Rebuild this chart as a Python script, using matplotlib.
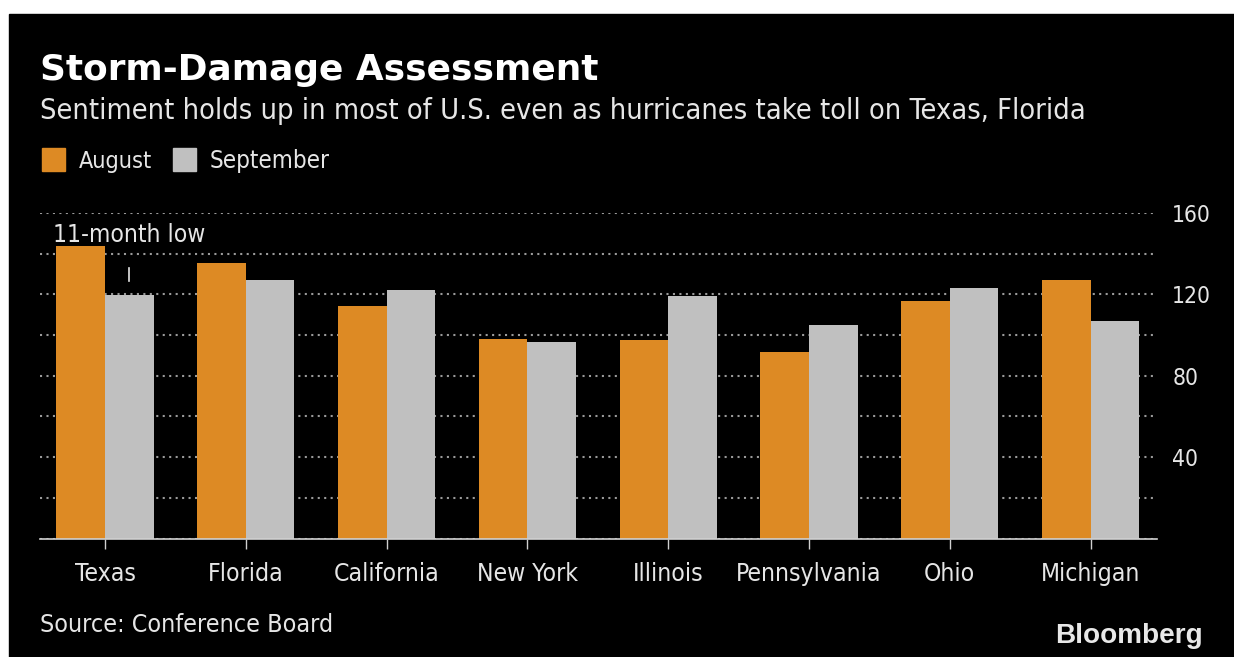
import matplotlib
matplotlib.use("Agg")
import matplotlib.pyplot as plt
from matplotlib.patches import Rectangle
from matplotlib.ticker import MultipleLocator, FixedLocator
import numpy as np

# ---- data ----
categories = ["Texas", "Florida", "California", "New York", "Illinois",
              "Pennsylvania", "Ohio", "Michigan"]
august = [144.0, 135.5, 114.5, 98.3, 97.5, 91.7, 116.5, 127.0]
september = [119.5, 127.0, 122.0, 96.8, 119.0, 104.8, 123.0, 107.0]
series_names = ["August", "September"]
ytick_values = [40, 80, 120, 160]
annotation_text = "11-month low"
title = "Storm-Damage Assessment"
subtitle = "Sentiment holds up in most of U.S. even as hurricanes take toll on Texas, Florida"
source = "Source: Conference Board"

# ---- style ----
W, H = 1234, 657
ORANGE = "#DD8A24"
GRAY = "#C0C0C0"
TXT = "#E6E6E6"
REG = dict(family="DejaVu Sans", fontstretch="condensed")

fig = plt.figure(figsize=(W / 100, H / 100), dpi=100, facecolor="white")
fig.patches.append(Rectangle((9 / W, 0), 1 - 9 / W, 1 - 14 / H,
                             transform=fig.transFigure, color="black", zorder=-10))

def px(x, y):
    return (x / W, 1 - y / H)

renderer = fig.canvas.get_renderer()

def fit(s, x, y, width, ha="left", va="baseline", **kw):
    t = fig.text(*px(x, y), s, ha=ha, va=va, fontsize=20, **kw)
    w = t.get_window_extent(renderer).width
    t.set_fontsize(20 * width / w)
    return t

def fit_size(s, width, **kw):
    t = fig.text(0, 0, s, fontsize=20, **kw)
    w = t.get_window_extent(renderer).width
    t.remove()
    return 20 * width / w

# ---- titles ----
fit(title, 40, 80, 557, color="white", family="DejaVu Sans", fontweight="bold")
fit(subtitle, 40, 119, 1045, color=TXT, **REG)

# ---- legend ----
for (x0, name, col, tw) in [(42, series_names[0], ORANGE, 73),
                             (173, series_names[1], GRAY, 119)]:
    fig.patches.append(Rectangle(px(x0, 171), 23 / W, 23 / H,
                                 transform=fig.transFigure, color=col))
    fit(name, x0 + 37, 168, tw, color=TXT, **REG)

# ---- axes ----
ax = fig.add_axes([40 / W, (H - 538.5) / H, 1117 / W, (538.5 - 213) / H])
ax.set_facecolor("none")
x = np.arange(len(categories))
bw = 0.345
ax.bar(x - bw / 2, august, bw, color=ORANGE, zorder=3, linewidth=0)
ax.bar(x + bw / 2, september, bw, color=GRAY, zorder=3, linewidth=0)
ax.set_xlim(-0.4616, 7.472)
ax.set_ylim(0, 160)

for s in ["top", "left", "right"]:
    ax.spines[s].set_visible(False)
ax.spines["bottom"].set_color("#D0D0D0")
ax.spines["bottom"].set_linewidth(1.2)
ax.spines["bottom"].set_zorder(4)

lab_size = fit_size("California", 105, **REG)
ax.set_xticks(x)
ax.set_xticklabels(categories, color=TXT, fontsize=lab_size, **REG)
ax.tick_params(axis="x", length=7.2, width=1, color="#D0D0D0", pad=9.5)

ax.yaxis.tick_right()
ax.yaxis.set_major_locator(FixedLocator(ytick_values))
ax.yaxis.set_minor_locator(MultipleLocator(20))
ysize = fit_size("160", 39, **REG)
ax.tick_params(axis="y", which="both", length=0, pad=11, labelsize=ysize,
               labelcolor=TXT)
for lab in ax.get_yticklabels():
    lab.set_fontstretch("condensed")
ax.grid(axis="y", which="both", color="#9A9A9A", linestyle=(0, (1, 2.1)),
        linewidth=1.5, zorder=1)

# annotation on Texas September
ann_x = x[0] + bw / 2
ax.plot([ann_x, ann_x], [126.5, 133], color=TXT, lw=1.2, zorder=5)
tsize = fit_size(annotation_text, 152, **REG)
ax.text(x[0] - bw * 1.07, 145.5, annotation_text, color=TXT, fontsize=tsize,
        va="baseline", ha="left", zorder=6, **REG)

# ---- footer ----
fit(source, 40, 632, 292, color=TXT, **REG)
fit("Bloomberg", 1055, 643, 147, color="#E8E8E8", family="Liberation Sans",
    fontweight="bold")

fig.savefig("out.png", dpi=100, facecolor=fig.get_facecolor())
